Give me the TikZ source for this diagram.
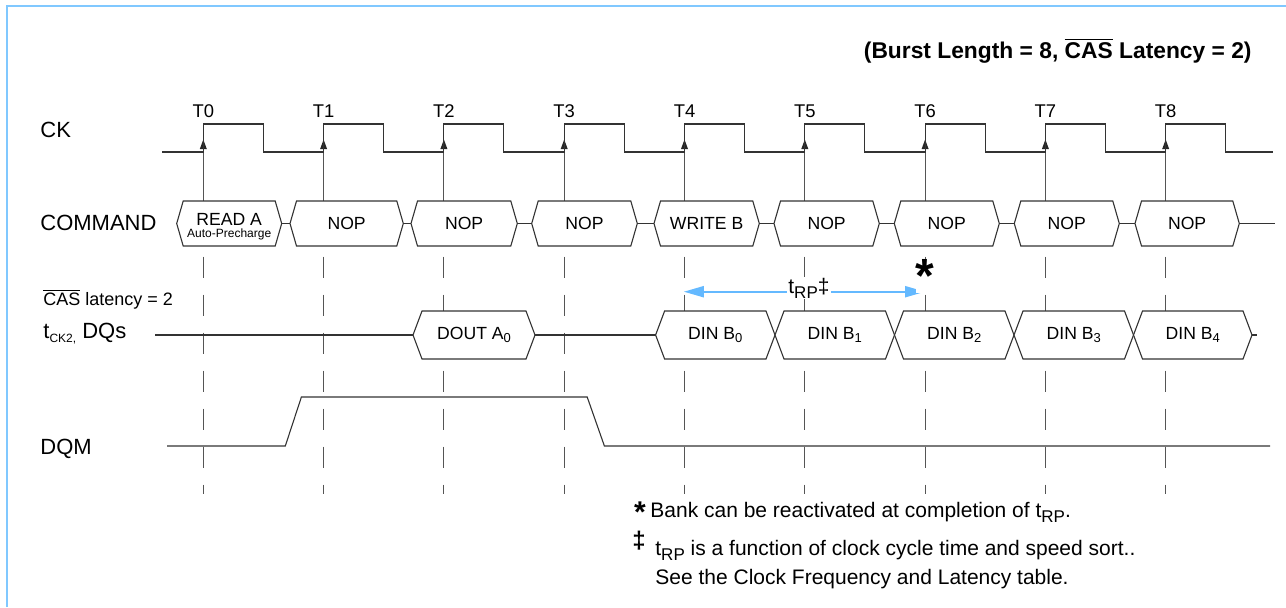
\documentclass[tikz,border=0pt]{standalone}
\usepackage{fontspec}
\setmainfont{Liberation Sans}
\usetikzlibrary{arrows.meta}
\definecolor{frameblue}{RGB}{128,200,255}
\definecolor{arrowblue}{RGB}{100,185,255}
\definecolor{guidegray}{RGB}{85,85,85}
\newcommand\subtxt[3][0.35ex]{\raisebox{-#1}{\fontsize{#2}{#2}\selectfont #3}}
% name, left point, right point, mid y, half height, bevel, text
\newcommand\hexbox[7]{%
  \draw[wave,fill=white] (#2,#4) -- (#2+#6,#4-#5) -- (#3-#6,#4-#5) -- (#3,#4)
     -- (#3-#6,#4+#5) -- (#2+#6,#4+#5) -- cycle;
  \coordinate (#1-w) at (#2,#4);
  \coordinate (#1-e) at (#3,#4);
  \node[boxtxt] (#1) at ({(#2+#3)/2},#4) {#7};}
\begin{document}
\begin{tikzpicture}[x=0.5pt,y=-0.5pt,
  wave/.style={line width=0.55pt,draw=black!80},
  guide/.style={line width=0.55pt,draw=guidegray},
  dguide/.style={guide,dash pattern=on 10.5pt off 8.5pt},
  lbl/.style={anchor=base west,inner sep=0pt,font=\fontsize{11}{13}\selectfont},
  tlbl/.style={anchor=base,inner sep=0pt,font=\fontsize{9.2}{11}\selectfont},
  boxtxt/.style={inner sep=0pt,font=\fontsize{8.8}{10}\selectfont},
  note/.style={anchor=base west,inner sep=0pt,font=\fontsize{10.5}{12}\selectfont},
]
\useasboundingbox (0,0) rectangle (1286,607);
% frame
\draw[frameblue,line width=1pt] (7.2,607) -- (7.2,6.2) -- (1286,6.2);

% title
\node[anchor=base east,inner sep=0pt,font=\bfseries\fontsize{11.4}{13}\selectfont] (title) at (1252,58)
  {(Burst Length = 8, $\overline{\mbox{CAS}}$ Latency = 2)};

% guide lines and clock labels
\foreach \t [count=\i from 0] in {203.3,323.6,443.9,564.2,684.5,804.8,925.1,1045.4,1165.7}{
  \draw[guide] (\t,152) -- (\t,201);
  \draw[dguide] (\t,256.5) -- (\t,494);
  \fill[black!85] (\t,139.5) -- (\t-3.5,149) -- (\t+3.5,149) -- cycle;
  \node[tlbl] (T\i) at (\t,117) {T\i};
}

% clock waveform
\draw[wave] (162,152) foreach \t in {203.3,323.6,443.9,564.2,684.5,804.8,925.1,1045.4,1165.7}
  { -- (\t,152) -- (\t,124) -- (\t+60,124) -- (\t+60,152) } -- (1273,152);

% command row
\hexbox{c0}{176.7}{281.7}{223.5}{22.5}{6.5}{}
\node[inner sep=0pt,font=\fontsize{8.8}{10}\selectfont] (rda) at (229.2,219) {READ A};
\node[inner sep=0pt,font=\fontsize{6}{7}\selectfont] (apc) at (229.2,234.5) {Auto-Precharge};
\hexbox{c1}{290}{403.3}{223.5}{22.5}{6.5}{NOP}
\hexbox{c2}{411}{517.3}{223.5}{22.5}{6.5}{NOP}
\hexbox{c3}{531.7}{637.3}{223.5}{22.5}{6.5}{NOP}
\hexbox{c4}{654}{759.3}{223.5}{22.5}{6.5}{WRITE B}
\hexbox{c5}{774}{879.3}{223.5}{22.5}{6.5}{NOP}
\hexbox{c6}{894.3}{999.3}{223.5}{22.5}{6.5}{NOP}
\hexbox{c7}{1014.3}{1119.3}{223.5}{22.5}{6.5}{NOP}
\hexbox{c8}{1135}{1239.3}{223.5}{22.5}{6.5}{NOP}
\coordinate (cend) at (1275,223.5);
\draw[wave] (c0-e) -- (c1-w) (c1-e) -- (c2-w) (c2-e) -- (c3-w) (c3-e) -- (c4-w)
  (c4-e) -- (c5-w) (c5-e) -- (c6-w) (c6-e) -- (c7-w) (c7-e) -- (c8-w) (c8-e) -- (cend);

% data row
\hexbox{dout}{413}{535}{335}{24}{9}{DOUT A\subtxt{6.5}{0}}
\hexbox{b0}{655.6}{775}{335}{24}{9}{DIN B\subtxt{6.5}{0}}
\hexbox{b1}{775}{894.5}{335}{24}{9}{DIN B\subtxt{6.5}{1}}
\hexbox{b2}{894.5}{1014}{335}{24}{9}{DIN B\subtxt{6.5}{2}}
\hexbox{b3}{1014}{1133.5}{335}{24}{9}{DIN B\subtxt{6.5}{3}}
\hexbox{b4}{1133.5}{1252}{335}{24}{9}{DIN B\subtxt{6.5}{4}}
\coordinate (dqstart) at (155,335);
\coordinate (dqend) at (1257,335);
\draw[wave] (dqstart) -- (dout-w) (dout-e) -- (b0-w) (b4-e) -- (dqend);

% DQM
\coordinate (m0) at (167,446);
\coordinate (m1) at (285.3,446);
\coordinate (m2) at (301.4,397);
\coordinate (m3) at (587.2,397);
\coordinate (m4) at (604.4,446);
\coordinate (m5) at (1270,446);
\draw[wave] (m0) -- (m1) -- (m2) -- (m3) -- (m4) -- (m5);

% tRP arrow
\coordinate (rpa) at (683.8,291.7);
\coordinate (rpb) at (925.1,291.7);
\draw[arrowblue,line width=1pt,{Triangle[length=10pt,width=5.5pt]}-{Triangle[length=10pt,width=5.5pt]}] (rpa) -- (rpb);
\node[anchor=base west,inner sep=0.5pt,fill=white,font=\fontsize{10.5}{12}\selectfont] (trp) at (787,293)
  {t\subtxt[0.45ex]{8.5}{RP}‡};
\node[anchor=north,inner sep=0pt,fill=white,font=\bfseries\fontsize{24}{26}\selectfont] (star) at (925.1,259.5) {*};

% row labels
\node[lbl] (lck) at (40,137) {CK};
\node[lbl] (lcmd) at (40,230) {COMMAND};
\node[anchor=base west,inner sep=0pt,font=\fontsize{9}{11}\selectfont] (lcas) at (43,305.5) {$\overline{\mbox{CAS}}$ latency = 2};
\node[lbl] (ldq) at (43,338) {t\subtxt{6}{CK2,} DQs};
\node[lbl] (ldqm) at (40,454) {DQM};

% notes
\node[anchor=north,inner sep=0pt,font=\bfseries\fontsize{15}{16}\selectfont] (n1s) at (640,501) {*};
\node[note] (n1) at (650,517.3) {Bank can be reactivated at completion of t\subtxt[0.45ex]{8.5}{RP}.};
\node[inner sep=0pt,font=\bfseries\fontsize{12}{14}\selectfont] (n2s) at (639,541) {‡};
\node[note] (n2) at (655,555) {t\subtxt[0.45ex]{8.5}{RP} is a function of clock cycle time and speed sort..};
\node[note] (n3) at (655,584) {See the Clock Frequency and Latency table.};
\end{tikzpicture}
\end{document}
